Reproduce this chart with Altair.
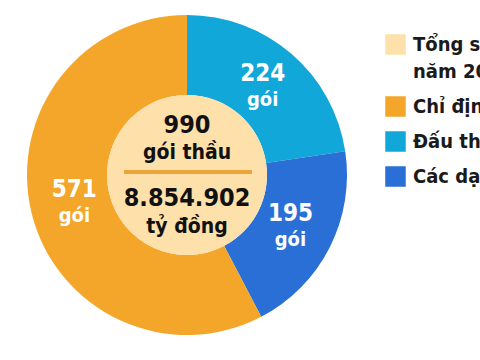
import altair as alt
import pandas as pd

FONT = "DejaVu Sans Condensed, Roboto Condensed, Roboto, sans-serif"

# slice data (clockwise from top)
categories = ["Đấu thầu rộng rãi", "Các dạng khác", "Chỉ định thầu"]
values = [224, 195, 571]
order = [1, 2, 3]
unit = ["gói", "gói", "gói"]

total_label = "Tổng số gói thầu năm 2020"
total_count = 990
total_count_text = "990"
total_unit_text = "gói thầu"
total_money_text = "8.854.902"
total_money_unit = "tỷ đồng"

legend_domain = [total_label, "Chỉ định thầu", "Đấu thầu rộng rãi", "Các dạng khác"]
legend_colors = ["#FDE0AA", "#F4A62A", "#12A7D9", "#2A6FD5"]

df = pd.DataFrame({"cat": categories, "value": values, "order": order,
                   "num": [str(v) for v in values], "unit": unit})
center = pd.DataFrame({"cat": [total_label], "value": [total_count],
                       "t1": [total_count_text], "t2": [total_unit_text],
                       "t3": [total_money_text], "t4": [total_money_unit]})

color = alt.Color("cat:N", scale=alt.Scale(domain=legend_domain, range=legend_colors),
                  legend=alt.Legend(orient="none", legendX=385, legendY=34, title=None,
                                    symbolType="square", symbolSize=420, symbolStrokeWidth=0,
                                    labelFont=FONT, labelFontSize=20, labelFontWeight="bold",
                                    labelColor="#1a1a1a", labelLimit=400, rowPadding=14,
                                    labelOffset=7,
                                    labelExpr="datum.label == '" + total_label + "' ? ['Tổng số gói thầu', 'năm 2020'] : datum.label"))

theta = alt.Theta("value:Q", stack=True)

base = alt.Chart(df).encode(theta=theta, order=alt.Order("order:Q"))

ring = base.mark_arc(innerRadius=80, outerRadius=160, stroke=None).encode(color=color)

center_arc = alt.Chart(center).mark_arc(outerRadius=80, innerRadius=0).encode(
    theta=alt.Theta("value:Q"), color=color)

num_text = base.mark_text(font=FONT, fontSize=24, fontWeight="bold", color="white", dy=-13).encode(
    text="num:N", radius=alt.value(116))
unit_text = base.mark_text(font=FONT, fontSize=20, fontWeight="bold", color="white", dy=13).encode(
    text="unit:N", radius=alt.value(116))

cbase = alt.Chart(center).encode(theta=alt.Theta("value:Q"), radius=alt.value(0))
c1 = cbase.mark_text(font=FONT, fontSize=25, fontWeight="bold", color="#111", dy=-50).encode(text="t1:N")
c2 = cbase.mark_text(font=FONT, fontSize=21, fontWeight="bold", color="#111", dy=-22).encode(text="t2:N")
c3 = cbase.mark_text(font=FONT, fontSize=25, fontWeight="bold", color="#111", dy=23).encode(text="t3:N")
c4 = cbase.mark_text(font=FONT, fontSize=21, fontWeight="bold", color="#111", dy=52).encode(text="t4:N")

line = alt.Chart(center).mark_rule(color="#EBA53A", strokeWidth=4).encode(
    x=alt.value(124), x2=alt.value(252), y=alt.value(172))

chart = alt.layer(ring, center_arc, num_text, unit_text, c1, c2, c3, c4, line).properties(
    width=374, height=350,
    autosize=alt.AutoSizeParams(type="none"),
    padding={"left": 0, "top": 0, "right": 106, "bottom": 10},
    background="white",
).configure(
    style={"guide-label": {"lineHeight": 27}},
).configure_view(stroke=None)

chart.save("out.html", embed_options={"renderer": "svg", "actions": False})
